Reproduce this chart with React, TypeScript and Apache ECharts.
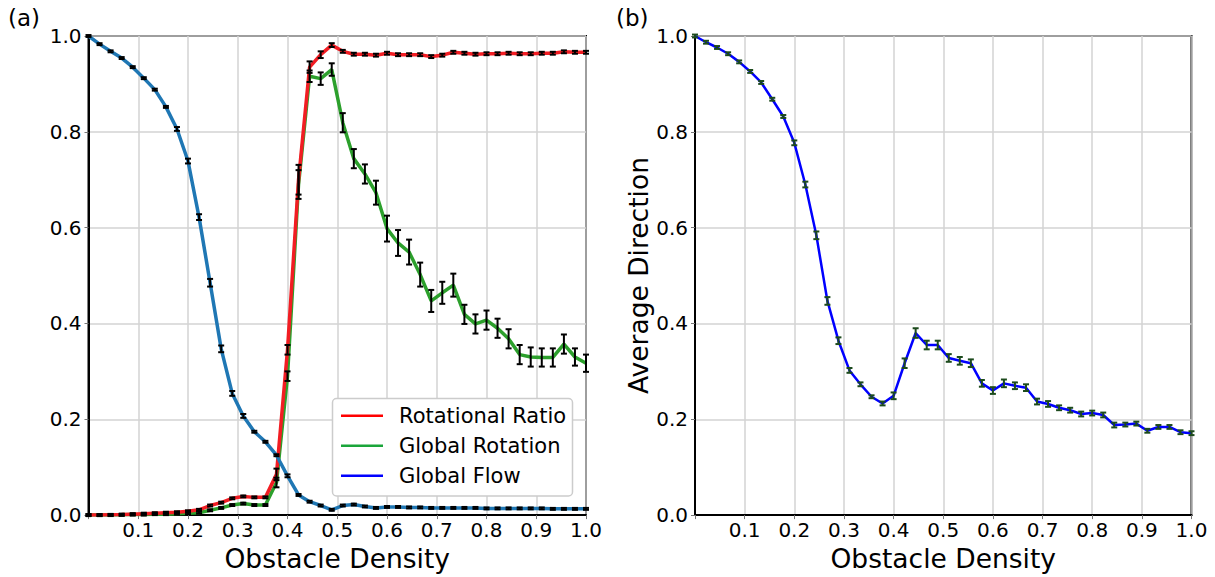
import React, { useEffect, useRef } from "react";
import * as echarts from "echarts";

const densities = [
  0, 0.0222, 0.0444, 0.0667, 0.0889, 0.1111, 0.1333, 0.1556, 0.1778, 0.2,
  0.2222, 0.2444, 0.2667, 0.2889, 0.3111, 0.3333, 0.3556, 0.3778, 0.4, 0.4222,
  0.4444, 0.4667, 0.4889, 0.5111, 0.5333, 0.5556, 0.5778, 0.6, 0.6222, 0.6444,
  0.6667, 0.6889, 0.7111, 0.7333, 0.7556, 0.7778, 0.8, 0.8222, 0.8444, 0.8667,
  0.8889, 0.9111, 0.9333, 0.9556, 0.9778, 1.0,
];

const rotationalRatio = [
  0.0, 0.0, 0.0005, 0.001, 0.002, 0.003, 0.004, 0.005, 0.006, 0.008,
  0.011, 0.02, 0.026, 0.035, 0.039, 0.037, 0.037, 0.085, 0.345, 0.70,
  0.935, 0.961, 0.981, 0.968, 0.962, 0.962, 0.960, 0.964, 0.961, 0.961,
  0.961, 0.957, 0.960, 0.966, 0.964, 0.962, 0.963, 0.963, 0.964, 0.963,
  0.963, 0.964, 0.964, 0.967, 0.966, 0.966,
];
const rotationalRatioErr = [
  0.002, 0.002, 0.002, 0.002, 0.002, 0.002, 0.002, 0.002, 0.002, 0.002,
  0.002, 0.002, 0.002, 0.002, 0.002, 0.002, 0.002, 0.012, 0.01, 0.031,
  0.012, 0.007, 0.004, 0.003, 0.003, 0.003, 0.003, 0.003, 0.003, 0.003,
  0.003, 0.003, 0.003, 0.003, 0.003, 0.003, 0.003, 0.003, 0.003, 0.003,
  0.003, 0.003, 0.003, 0.003, 0.003, 0.003,
];

const globalRotation = [
  0.0, 0.0, 0.0, 0.0005, 0.001, 0.001, 0.002, 0.002, 0.003, 0.004,
  0.005, 0.01, 0.015, 0.021, 0.024, 0.021, 0.021, 0.068, 0.29, 0.69,
  0.916, 0.911, 0.930, 0.819, 0.744, 0.712, 0.673, 0.598, 0.568, 0.549,
  0.502, 0.447, 0.464, 0.480, 0.419, 0.399, 0.407, 0.390, 0.368, 0.335,
  0.330, 0.329, 0.329, 0.357, 0.330, 0.317,
];
const globalRotationErr = [
  0.002, 0.002, 0.002, 0.002, 0.002, 0.002, 0.002, 0.002, 0.002, 0.002,
  0.002, 0.002, 0.002, 0.002, 0.002, 0.002, 0.002, 0.01, 0.01, 0.03,
  0.012, 0.013, 0.013, 0.02, 0.02, 0.02, 0.025, 0.027, 0.027, 0.026,
  0.025, 0.023, 0.023, 0.024, 0.02, 0.02, 0.02, 0.02, 0.02, 0.02,
  0.02, 0.019, 0.019, 0.02, 0.018, 0.018,
];

const globalFlow = [
  1.0, 0.983, 0.968, 0.954, 0.935, 0.912, 0.888, 0.852, 0.806, 0.739,
  0.622, 0.485, 0.347, 0.254, 0.207, 0.174, 0.153, 0.125, 0.082, 0.042,
  0.028, 0.020, 0.011, 0.020, 0.022, 0.018, 0.015, 0.017, 0.017, 0.016,
  0.016, 0.015, 0.015, 0.015, 0.015, 0.015, 0.014, 0.014, 0.014, 0.014,
  0.014, 0.014, 0.013, 0.013, 0.013, 0.013,
];
const globalFlowErr = [
  0.002, 0.002, 0.002, 0.002, 0.002, 0.002, 0.002, 0.002, 0.004, 0.005,
  0.006, 0.008, 0.007, 0.005, 0.004, 0.002, 0.002, 0.002, 0.003, 0.002,
  0.002, 0.002, 0.002, 0.002, 0.002, 0.002, 0.002, 0.002, 0.002, 0.002,
  0.002, 0.002, 0.002, 0.002, 0.002, 0.002, 0.002, 0.002, 0.002, 0.002,
  0.002, 0.002, 0.002, 0.002, 0.002, 0.002,
];

const averageDirection = [
  1.0, 0.987, 0.976, 0.963, 0.946, 0.926, 0.903, 0.868, 0.832, 0.777,
  0.690, 0.584, 0.447, 0.364, 0.302, 0.273, 0.247, 0.233, 0.249, 0.317,
  0.380, 0.355, 0.355, 0.328, 0.322, 0.317, 0.275, 0.260, 0.275, 0.270,
  0.266, 0.237, 0.232, 0.224, 0.219, 0.211, 0.213, 0.209, 0.188, 0.189,
  0.191, 0.176, 0.184, 0.184, 0.173, 0.171,
];
const averageDirectionErr = [
  0.003, 0.003, 0.003, 0.003, 0.003, 0.003, 0.003, 0.003, 0.003, 0.005,
  0.006, 0.008, 0.008, 0.007, 0.005, 0.004, 0.003, 0.004, 0.007, 0.01,
  0.01, 0.009, 0.009, 0.008, 0.008, 0.008, 0.007, 0.007, 0.008, 0.007,
  0.007, 0.006, 0.006, 0.005, 0.005, 0.005, 0.005, 0.005, 0.005, 0.004,
  0.004, 0.004, 0.004, 0.004, 0.004, 0.004,
];

const yTicks = [0, 0.2, 0.4, 0.6, 0.8, 1.0];
const legendNames = ["Rotational Ratio", "Global Rotation", "Global Flow"];
const legendColors = ["#ff0000", "#1aa53a", "#0000ff"];

const FONT = "DejaVu Sans";

function pairs(vals: number[]) {
  return densities.map((x, i) => [x, vals[i]]);
}
function errData(vals: number[], errs: number[]) {
  return densities.map((x, i) => [x, vals[i] - errs[i], vals[i] + errs[i]]);
}

function errorBarSeries(
  vals: number[],
  errs: number[],
  idx: number,
  color: string,
  z: number
) {
  return {
    type: "custom",
    xAxisIndex: idx,
    yAxisIndex: idx,
    z,
    clip: false,
    data: errData(vals, errs),
    renderItem: (params: any, api: any) => {
      const x = api.value(0);
      const lo = api.coord([x, api.value(1)]);
      const hi = api.coord([x, api.value(2)]);
      const cw = 3;
      const st = { stroke: color, lineWidth: 2 };
      return {
        type: "group",
        children: [
          { type: "line", shape: { x1: lo[0], y1: lo[1], x2: hi[0], y2: hi[1] }, style: st },
          { type: "line", shape: { x1: lo[0] - cw, y1: lo[1], x2: lo[0] + cw, y2: lo[1] }, style: st },
          { type: "line", shape: { x1: hi[0] - cw, y1: hi[1], x2: hi[0] + cw, y2: hi[1] }, style: st },
        ],
      };
    },
  };
}

function lineSeries(vals: number[], idx: number, color: string, width: number, z: number) {
  return {
    type: "line",
    xAxisIndex: idx,
    yAxisIndex: idx,
    data: pairs(vals),
    symbol: "none",
    z,
    lineStyle: { color, width },
  };
}

function xAxisCfg(idx: number) {
  return {
    type: "value",
    gridIndex: idx,
    min: 0,
    max: 1,
    interval: 0.1,
    name: "Obstacle Density",
    nameLocation: "middle",
    nameGap: 24,
    nameTextStyle: { fontFamily: FONT, fontSize: 26.5, color: "#000" },
    axisLine: { show: true, lineStyle: { color: "#000", width: 2 } },
    axisTick: { show: true, length: 4, lineStyle: { color: "#777", width: 1 } },
    axisLabel: {
      fontFamily: FONT,
      fontSize: 20,
      color: "#000",
      margin: 5,
      formatter: (v: number) => (v === 0 ? "" : v.toFixed(1)),
    },
    splitLine: { show: true, lineStyle: { color: "#d3d3d3", width: 1.5 } },
  };
}

function yAxisCfg(idx: number, name: string) {
  return {
    type: "value",
    gridIndex: idx,
    min: 0,
    max: 1,
    interval: 0.2,
    name,
    nameLocation: "middle",
    nameGap: 40,
    nameTextStyle: { fontFamily: FONT, fontSize: 26.5, color: "#000" },
    axisLine: { show: true, lineStyle: { color: "#000", width: 2 } },
    axisTick: { show: true, length: 4, lineStyle: { color: "#777", width: 1 } },
    axisLabel: {
      fontFamily: FONT,
      fontSize: 20,
      color: "#000",
      margin: 7,
      formatter: (v: number) => v.toFixed(1),
    },
    splitLine: { show: true, lineStyle: { color: "#d3d3d3", width: 1.5 } },
  };
}

export default function App() {
  const ref = useRef<HTMLDivElement>(null);
  useEffect(() => {
    if (!ref.current) return;
    const chart = echarts.init(ref.current, undefined, { renderer: "svg" });

    const legendBox = { x: 332.5, y: 398.5, w: 240, h: 97.5 };
    const legendRows = [415.7, 445.7, 475.7];
    const legendGraphics: any[] = [
      {
        type: "rect",
        z: 100,
        shape: { x: legendBox.x, y: legendBox.y, width: legendBox.w, height: legendBox.h, r: 4 },
        style: { fill: "#fff", stroke: "#cccccc", lineWidth: 1.5 },
      },
    ];
    legendNames.forEach((n, i) => {
      legendGraphics.push({
        type: "line",
        z: 101,
        shape: { x1: 341, y1: legendRows[i], x2: 383, y2: legendRows[i] },
        style: { stroke: legendColors[i], lineWidth: 2.5 },
      });
      legendGraphics.push({
        type: "text",
        z: 101,
        x: 399,
        y: legendRows[i],
        style: {
          text: n,
          fontFamily: FONT,
          fontSize: 21,
          fill: "#000",
          verticalAlign: "middle",
          align: "left",
        },
      });
    });

    const option: any = {
      animation: false,
      backgroundColor: "#fff",
      grid: [
        { left: 88.5, top: 36, width: 497.5, height: 483.5, show: true, borderColor: "#000", borderWidth: 2 },
        { left: 695, top: 36, width: 496.5, height: 483.5, show: true, borderColor: "#000", borderWidth: 2 },
      ],
      xAxis: [xAxisCfg(0), xAxisCfg(1)],
      yAxis: [yAxisCfg(0, ""), yAxisCfg(1, "Average Direction")],
      series: [
        lineSeries(globalRotation, 0, "#2ca02c", 3.5, 2),
        lineSeries(rotationalRatio, 0, "#f21d23", 3.5, 3),
        lineSeries(globalFlow, 0, "#1f77b4", 3.5, 4),
        errorBarSeries(globalRotation, globalRotationErr, 0, "#000", 5),
        errorBarSeries(rotationalRatio, rotationalRatioErr, 0, "#000", 5),
        errorBarSeries(globalFlow, globalFlowErr, 0, "#000", 5),
        lineSeries(averageDirection, 1, "#0000ff", 2.5, 3),
        errorBarSeries(averageDirection, averageDirectionErr, 1, "#1c4a1c", 5),
      ],
      graphic: [
        {
          type: "text",
          x: 8,
          y: 18,
          style: { text: "(a)", fontFamily: FONT, fontSize: 23, fill: "#000", verticalAlign: "middle" },
        },
        {
          type: "text",
          x: 616,
          y: 18,
          style: { text: "(b)", fontFamily: FONT, fontSize: 23, fill: "#000", verticalAlign: "middle" },
        },
        ...legendGraphics,
      ],
    };
    chart.setOption(option);
    return () => chart.dispose();
  }, []);
  return (
    <div
      ref={ref}
      style={{ position: "fixed", left: 0, top: 0, width: 1215, height: 577 }}
    />
  );
}
